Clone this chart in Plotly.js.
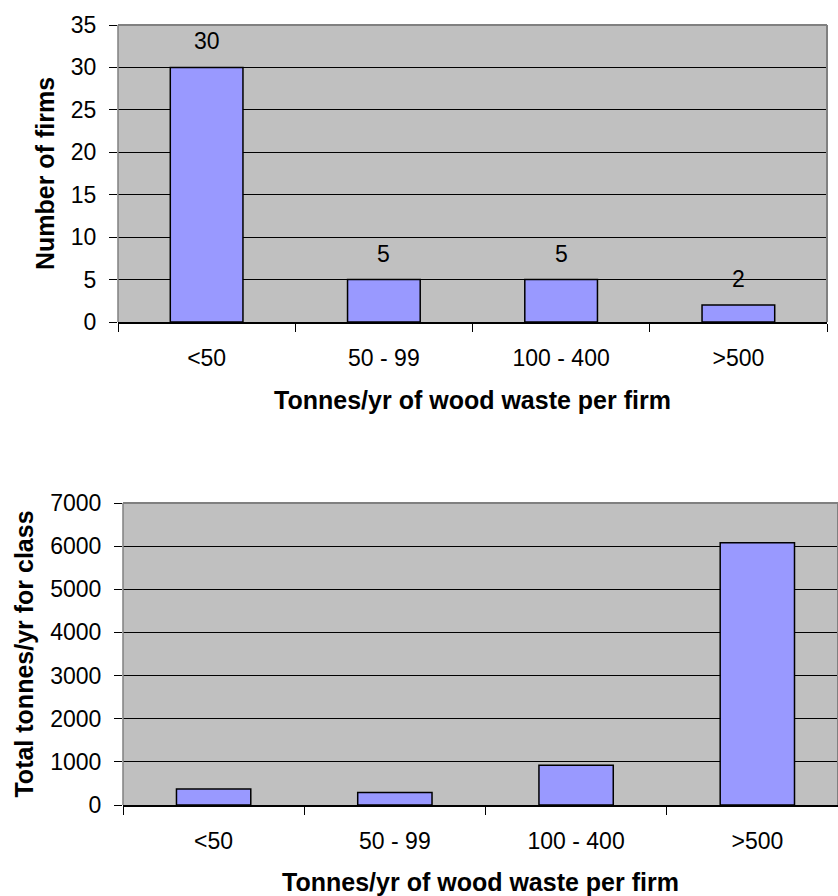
<!DOCTYPE html>
<html><head><meta charset="utf-8">
<script src="https://cdn.plot.ly/plotly-3.0.1.min.js"></script>
<style>html,body{margin:0;padding:0;background:#fff}#chart{width:838px;height:896px}</style>
</head><body><div id="chart"></div>
<script>
// ---- data ----
const categories = ['<50', '50 - 99', '100 - 400', '>500'];
const firmCounts = [30, 5, 5, 2];
const totalTonnes = [370, 290, 920, 6080];
const firmTicks = [0, 5, 10, 15, 20, 25, 30, 35];
const tonneTicks = [0, 1000, 2000, 3000, 4000, 5000, 6000, 7000];
const xTitle = 'Tonnes/yr of wood waste per firm';
const yTitleTop = 'Number of firms';
const yTitleBottom = 'Total tonnes/yr for class';

// ---- style ----
const W = 838, H = 896;
const FONT = 'Liberation Sans, Arial, sans-serif';
const barStyle = {color: '#9999FF', line: {color: '#000000', width: 1.5}};

const traces = [
  {type: 'bar', x: categories, y: firmCounts, xaxis: 'x', yaxis: 'y', marker: barStyle, hoverinfo: 'x+y'},
  {type: 'bar', x: categories, y: totalTonnes, xaxis: 'x2', yaxis: 'y2', marker: barStyle, hoverinfo: 'x+y'}
];

function xAxis(domain, anchor, range, titleStandoff) {
  return {
    domain: domain, anchor: anchor, type: 'category', range: range,
    tickson: 'boundaries', ticks: 'outside', ticklen: 8, tickwidth: 1, tickcolor: '#000',
    showline: true, linecolor: '#000', linewidth: 1.5, mirror: false,
    showgrid: false, zeroline: false, fixedrange: true,
    tickfont: {family: FONT, size: 23, color: '#000'}, ticklabelstandoff: 15,
    title: {text: xTitle, font: {family: FONT, size: 25, color: '#000', weight: 'bold'}, standoff: titleStandoff}
  };
}
function yAxis(domain, anchor, range, ticks, title) {
  return {
    domain: domain, anchor: anchor, range: range, tickvals: ticks,
    ticks: 'outside', ticklen: 8, tickwidth: 1, tickcolor: '#000',
    showline: false, showgrid: true, gridcolor: '#000', gridwidth: 1, zeroline: false, fixedrange: true,
    tickfont: {family: FONT, size: 23, color: '#000'}, ticklabelstandoff: 8,
    title: {text: title, font: {family: FONT, size: 25, color: '#000', weight: 'bold'}, standoff: 9}
  };
}

function border(xref, yref) {
  const s = {type: 'line', xref: xref + ' domain', yref: yref + ' domain', layer: 'above', line: {color: '#808080', width: 2}};
  return [
    Object.assign({}, s, {x0: 0, x1: 1, y0: 1, y1: 1}),
    Object.assign({}, s, {x0: 1, x1: 1, y0: 0, y1: 1}),
    Object.assign({}, s, {x0: 0, x1: 0, y0: 0, y1: 1, line: {color: '#808080', width: 1.5}})
  ];
}

const annotations = categories.map((c, i) => ({
  xref: 'x', yref: 'y', x: c, y: firmCounts[i], text: String(firmCounts[i]),
  showarrow: false, yshift: 26, font: {family: FONT, size: 23, color: '#000'}
}));

const layout = {
  width: W, height: H,
  margin: {l: 0, r: 0, t: 0, b: 0, autoexpand: false},
  paper_bgcolor: '#ffffff', plot_bgcolor: '#C0C0C0',
  showlegend: false, bargap: 0.59,
  font: {family: FONT, color: '#000'},
  xaxis: xAxis([118 / W, 827 / W], 'y', [-0.5, 3.5], 21),
  yaxis: yAxis([1 - 322 / H, 1 - 25 / H], 'x', [0, 35], firmTicks, yTitleTop),
  xaxis2: xAxis([123 / W, 1], 'y2', [-0.5, 3.445], 25),
  yaxis2: yAxis([1 - 805 / H, 1 - 503 / H], 'x2', [0, 7000], tonneTicks, yTitleBottom),
  shapes: border('x', 'y').concat(border('x2', 'y2')),
  annotations: annotations
};

Plotly.newPlot('chart', traces, layout, {displayModeBar: false, staticPlot: true});
</script>
</body></html>
